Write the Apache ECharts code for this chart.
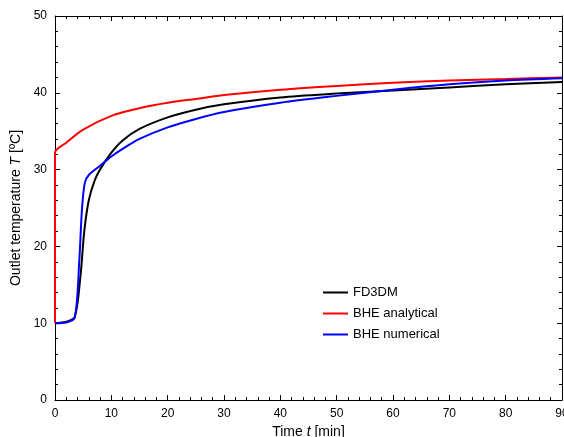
<!DOCTYPE html><html><head><meta charset="utf-8"><script src="https://cdn.jsdelivr.net/npm/echarts@6/dist/echarts.min.js"></script></head><body style="margin:0"><div id="c" style="width:564px;height:437px"></div><script>
const fd3dm=[[0,10],[2,10.2],[3.5,10.8],[4.5,16],[5.2,22],[6,26],[7,28.5],[8,30],[10,32.2],[12,33.8],[15,35.3],[20,36.8],[25,37.8],[30,38.5],[40,39.4],[50,39.9],[60,40.3],[70,40.7],[80,41.1],[90,41.4]];
const bheAnalytical=[[0,10],[0,32.2],[2,33.5],[5,35.2],[10,37],[15,38],[20,38.7],[25,39.2],[30,39.7],[40,40.4],[50,40.9],[60,41.3],[70,41.6],[80,41.8],[90,42]];
const bheNumerical=[[0,10],[2,10.1],[3.5,10.7],[4.3,18],[4.8,25],[5.3,28.3],[6,29.3],[8,30.5],[10,31.7],[12,32.7],[15,34],[20,35.5],[25,36.6],[30,37.5],[40,38.7],[50,39.6],[60,40.4],[70,41.1],[80,41.6],[90,41.9]];
const F='Liberation Sans';
const ax=(show)=>({show:true,axisLine:{show:true,onZero:false,lineStyle:{color:'#000'}},axisTick:{show:true,inside:true,length:5,lineStyle:{color:'#000'}},minorTick:{show:true,splitNumber:5,length:3,lineStyle:{color:'#000'}},splitLine:{show:false},axisLabel:{show:show,color:'#000',fontFamily:F,fontSize:12}});
const c=echarts.init(document.getElementById('c'));
const mk=(n,d,col)=>({name:n,type:'line',data:d,showSymbol:false,smooth:0.3,lineStyle:{color:col,width:2},itemStyle:{color:col},xAxisIndex:0,yAxisIndex:0});
const rich={i:{fontStyle:'italic',fontFamily:F,fontSize:14,color:'#000'},n:{fontFamily:F,fontSize:14,color:'#000'}};
c.setOption({animation:false,
grid:{left:55,right:2,top:16,bottom:37,containLabel:false,outerBoundsMode:'none'},
legend:{left:318,top:281,orient:'vertical',itemWidth:25,itemHeight:2,itemGap:8,textStyle:{fontFamily:F,fontSize:13,color:'#000'},icon:'rect'},
xAxis:[Object.assign({type:'value',min:0,max:90,interval:10,name:'{n|Time }{i|t}{n| [min]}',nameLocation:'middle',nameGap:20,nameTextStyle:{rich}},ax(true)),
Object.assign({type:'value',min:0,max:90,interval:10,position:'top'},ax(false))],
yAxis:[Object.assign({type:'value',min:0,max:50,interval:10,name:'{n|Outlet temperature }{i|T}{n| [ºC]}',nameLocation:'middle',nameGap:29,nameTextStyle:{rich}},ax(true)),
Object.assign({type:'value',min:0,max:50,interval:10,position:'right'},ax(false))],
series:[mk('FD3DM',fd3dm,'#000'),mk('BHE analytical',bheAnalytical,'#f00'),mk('BHE numerical',bheNumerical,'#00f')]});
</script></body></html>
